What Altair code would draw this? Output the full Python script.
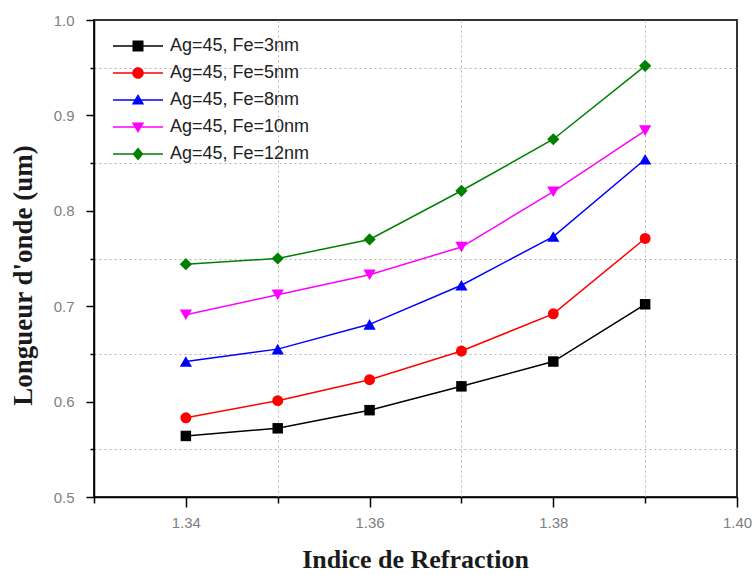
import altair as alt
import pandas as pd

# ---- data ----
indice = [1.34, 1.35, 1.36, 1.37, 1.38, 1.39]
series_names = ["Ag=45, Fe=3nm", "Ag=45, Fe=5nm", "Ag=45, Fe=8nm",
                "Ag=45, Fe=10nm", "Ag=45, Fe=12nm"]
fe3 = [0.564, 0.572, 0.591, 0.616, 0.642, 0.702]
fe5 = [0.583, 0.601, 0.623, 0.653, 0.692, 0.771]
fe8 = [0.642, 0.655, 0.681, 0.722, 0.773, 0.854]
fe10 = [0.691, 0.712, 0.733, 0.762, 0.820, 0.884]
fe12 = [0.744, 0.750, 0.770, 0.821, 0.875, 0.952]
x_ticks = [1.33, 1.34, 1.35, 1.36, 1.37, 1.38, 1.39, 1.40]
y_ticks = [0.50, 0.55, 0.60, 0.65, 0.70, 0.75, 0.80, 0.85, 0.90, 0.95, 1.00]

colors = ["#000000", "#ff0000", "#0000ff", "#ff00ff", "#008000"]
shapes = ["square", "circle", "triangle-up", "triangle-down", "diamond"]
sizes = [110, 120, 150, 150, 150]

LINE = "M-2.5,-0.08L2.5,-0.08L2.5,0.08L-2.5,0.08Z"
legend_paths = [
    LINE + "M-0.55,-0.55L0.55,-0.55L0.55,0.55L-0.55,0.55Z",
    LINE + "M-0.58,0A0.58,0.58 0 1,1 0.58,0A0.58,0.58 0 1,1 -0.58,0Z",
    LINE + "M0,-0.6L0.62,0.45L-0.62,0.45Z",
    LINE + "M-0.62,-0.45L0.62,-0.45L0,0.6Z",
    LINE + "M0,-0.65L0.55,0L0,0.65L-0.55,0Z",
]

rows = []
for name, vals in zip(series_names, [fe3, fe5, fe8, fe10, fe12]):
    for xv, yv in zip(indice, vals):
        rows.append({"series": name, "n": xv, "l": yv})
df = pd.DataFrame(rows)

X_MINOR = "abs(round(datum.value*100)) % 2 == 1"
Y_MINOR = "round(datum.value*100) % 10 == 5"

xscale = alt.Scale(domain=[1.33, 1.40], nice=False, zero=False)
yscale = alt.Scale(domain=[0.5, 1.0], nice=False, zero=False)

x_axis = alt.Axis(
    values=x_ticks,
    labelExpr="abs(round(datum.value*100)) % 2 == 1 ? '' : format(datum.value, '.2f')",
    tickSize={"condition": {"test": X_MINOR, "value": 6}, "value": 10},
    tickColor="black", tickWidth=1.5,
    domainColor="black", domainWidth=1.5,
    grid=True,
    gridOpacity={"condition": {"test": X_MINOR, "value": 1}, "value": 0},
    gridColor="#b5b5b5", gridDash=[2, 3], gridWidth=1,
    labelFont="Liberation Sans", labelFontSize=15, labelColor="#808080",
    labelPadding=8, labelFlush=False, labelOverlap=False,
    title="Indice de Refraction",
    titleFont="Liberation Serif", titleFontSize=26, titleFontWeight="bold",
    titleColor="#1a1a1a", titleBaseline="alphabetic", titleAlign="center",
    titleX=321, titleY=70,
)
y_axis = alt.Axis(
    values=y_ticks,
    labelExpr="round(datum.value*100) % 10 == 5 ? '' : format(datum.value, '.1f')",
    tickSize={"condition": {"test": Y_MINOR, "value": 4}, "value": 8},
    tickColor="black", tickWidth=1.5,
    domainColor="black", domainWidth=1.5,
    grid=True,
    gridOpacity={"condition": {"test": Y_MINOR, "value": 1}, "value": 0},
    gridColor="#b5b5b5", gridDash=[2, 3], gridWidth=1,
    labelFont="Liberation Sans", labelFontSize=15, labelColor="#808080",
    labelPadding=12, labelFlush=False, labelOverlap=False,
    title="Longueur d'onde (um)",
    titleFont="Liberation Serif", titleFontSize=27, titleFontWeight="bold",
    titleColor="#1a1a1a", titleBaseline="alphabetic", titleAlign="center",
    titleAngle=270, titleX=-63, titleY=255,
)

color_enc = alt.Color(
    "series:N",
    scale=alt.Scale(domain=series_names, range=colors),
    sort=series_names,
    legend=alt.Legend(
        title=None, orient="none", legendX=34, legendY=16, padding=0,
        labelFont="Liberation Sans", labelFontSize=18, labelColor="#222222",
        symbolSize=400, labelOffset=22, rowPadding=8, symbolOpacity=1,
        symbolStrokeWidth=0,
    ),
)

base = alt.Chart(df)

legend_layer = base.mark_point(filled=True, opacity=0).encode(
    x=alt.X("n:Q", scale=xscale, axis=x_axis),
    y=alt.Y("l:Q", scale=yscale, axis=y_axis),
    color=color_enc,
    shape=alt.Shape("series:N", scale=alt.Scale(domain=series_names, range=legend_paths),
                    sort=series_names, legend=alt.Legend(title=None)),
)

lines = base.mark_line(strokeWidth=1.5).encode(
    x=alt.X("n:Q", scale=xscale),
    y=alt.Y("l:Q", scale=yscale),
    color=alt.Color("series:N", sort=series_names),
    detail="series:N",
)

layers = [legend_layer, lines]
for name, shp, sz in zip(series_names, shapes, sizes):
    layers.append(
        base.transform_filter(alt.datum.series == name)
        .mark_point(filled=True, shape=shp, size=sz, opacity=1)
        .encode(
            x=alt.X("n:Q", scale=xscale),
            y=alt.Y("l:Q", scale=yscale),
            color=alt.Color("series:N", sort=series_names),
        )
    )

chart = alt.layer(*layers).properties(
    width=643, height=477,
    autosize=alt.AutoSizeParams(type="none"),
    padding={"left": 94, "top": 20, "right": 18, "bottom": 78},
    background="white",
).configure_view(stroke="#333333", strokeWidth=2)

chart.save("out.html", embed_options={"renderer": "svg", "actions": False})
